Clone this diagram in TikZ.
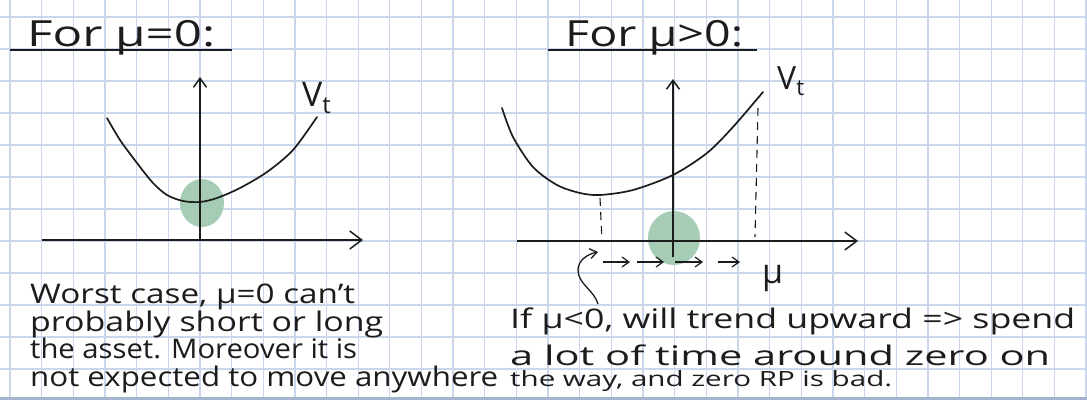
\documentclass[tikz,border=0pt]{standalone}
\usepackage{fontspec}
\setmainfont{Open Sans}
\usepackage{graphicx}
\usetikzlibrary{arrows.meta}
\definecolor{grille}{RGB}{202,214,234}
\definecolor{bord}{RGB}{165,180,205}
\definecolor{surligne}{RGB}{166,204,181}
\definecolor{encre}{RGB}{28,28,28}
\newcommand\etire[2]{\resizebox{#1}{\height}{#2}}

\begin{document}
\begin{tikzpicture}[x=1pt,y=-1pt,>={Straight Barb[length=7pt,width=10pt]},
  trait/.style={encre,line width=1.7pt,line cap=round},
  axe/.style={encre,line width=1.5pt},
  grandaxe/.style={axe,-{Straight Barb[length=12pt,width=18pt]}},
  hautaxe/.style={axe,-{Straight Barb[length=9pt,width=13pt]}},
  pointille/.style={encre,line width=1.1pt,dash pattern=on 8pt off 6pt},
  ecrit/.style={encre,inner sep=0pt,anchor=base west}]
  % feuille quadrillee
  \def\dx{31.65}
  \def\dy{32}
  \useasboundingbox (0,0) rectangle (1087,400);
  \fill[white] (0,0) rectangle (1087,400);
  \foreach \i in {0,...,34} \draw[grille,line width=1.3pt] (10+\i*\dx,0) -- (10+\i*\dx,397);
  \foreach \j in {0,...,11} \draw[grille,line width=1.3pt] (0,17+\j*\dy) -- (1087,17+\j*\dy);
  \draw[bord,line width=3pt] (0,398.5) -- (1087,398.5);

  % titres
  \node[ecrit] (titreA) at (27,46) {\fontsize{36}{36}\selectfont\etire{188pt}{For μ=0:}};
  \draw[encre,line width=2.2pt] (10,50) -- (232,50);
  \node[ecrit] (titreB) at (565,46) {\fontsize{36}{36}\selectfont\etire{178pt}{For μ>0:}};
  \draw[encre,line width=2.2pt] (548,50) -- (757,50);

  % cas mu = 0
  \fill[surligne] (202,203) ellipse [x radius=22, y radius=24];
  \draw[grandaxe] (42,240) -- (363,240);
  \draw[hautaxe] (200,240) -- (200,77);
  \draw[trait] plot[smooth] coordinates {(107,118) (120,140) (137,163) (153,183) (167,195) (183,201)
    (200,202) (217,198) (240,188) (267,172) (293,150) (317,117)};
  \node[ecrit] (VA) at (302,106) {\fontsize{34}{34}\selectfont V\textsubscript{t}};

  % cas mu > 0
  \fill[surligne] (674,238) ellipse [x radius=26, y radius=27];
  \draw[grandaxe] (517,241) -- (858,241);
  \draw[hautaxe] (673,257) -- (673,79);
  \draw[trait] plot[smooth] coordinates {(502,108) (513,137) (533,167) (557,185) (580,193) (600,195)
    (633,190) (673,175) (707,153) (733,127) (763,92)};
  \draw[pointille] (600,198) -- (602,241);
  \draw[pointille] (758,108) -- (755,237);
  \node[ecrit] (VB) at (777,89) {\fontsize{32}{32}\selectfont V\textsubscript{t}};
  \node[ecrit] (mu) at (762,283) {\fontsize{34}{34}\selectfont μ};

  % petites fleches vers la droite
  \foreach \a/\b in {603/630,637/664,675/703,718/740}
    \draw[encre,line width=1.2pt,->] (\a,262) -- (\b,262);
  \coordinate (depart) at (598,304);
  \coordinate (pointe) at (598,252);
  \draw[encre,line width=1.3pt,->] (depart) .. controls (594,290) and (578,284) .. (578,270)
    .. controls (578,260) and (588,254) .. (pointe);

  % commentaires
  \node[ecrit] (g1) at (30,303) {\fontsize{27}{27}\selectfont\etire{325pt}{Worst case, μ=0 can't}};
  \node[ecrit] (g2) at (30,331) {\fontsize{27}{27}\selectfont\etire{353pt}{probably short or long}};
  \node[ecrit] (g3) at (30,358) {\fontsize{27}{27}\selectfont\etire{327pt}{the asset. Moreover it is}};
  \node[ecrit] (g4) at (30,386) {\fontsize{27}{27}\selectfont\etire{468pt}{not expected to move anywhere}};
  \node[ecrit] (d1) at (510,328) {\fontsize{27}{27}\selectfont\etire{565pt}{If μ<0, will trend upward => spend}};
  \node[ecrit] (d2) at (510,365) {\fontsize{27}{27}\selectfont\etire{540pt}{a lot of time around zero on}};
  \node[ecrit] (d3) at (510,386) {\fontsize{21}{21}\selectfont\etire{382pt}{the way, and zero RP is bad.}};
\end{tikzpicture}
\end{document}
